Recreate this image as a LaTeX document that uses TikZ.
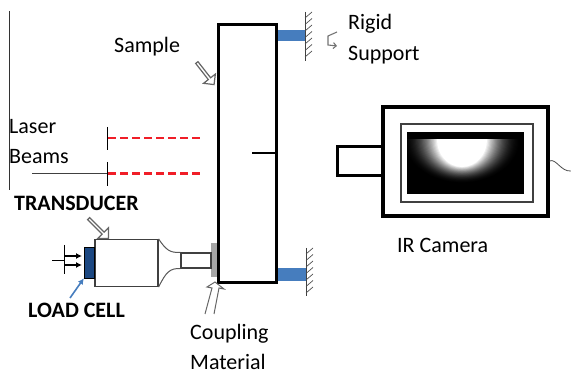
\documentclass[tikz,border=0pt]{standalone}
\usepackage{fontspec}
\setmainfont{Carlito}
\usetikzlibrary{shapes.arrows, arrows.meta}
\definecolor{supportblue}{RGB}{70,125,190}
\definecolor{cellblue}{RGB}{28,72,130}
\definecolor{beamred}{RGB}{240,30,40}
\tikzset{
    label/.style={anchor=west, inner sep=0pt, font=\fontsize{22}{22}\selectfont},
    boldlabel/.style={label, font=\fontsize{22}{22}\selectfont\bfseries},
    hollow/.style={single arrow, draw=black!60, fill=white, line width=1.2pt, minimum height=#1, minimum width=15pt, single arrow head extend=2.5pt, single arrow tip angle=90, inner sep=0pt},
}
\begin{document}
\begin{tikzpicture}[x=1pt, y=-1pt]
    \useasboundingbox (0,0) rectangle (571,374);

    % left edge
    \draw[line width=1pt, black!80] (9.5,11) -- (9.5,190);

    % sample
    \node[draw, line width=3pt, minimum width=58pt, minimum height=258pt, inner sep=0pt] (sample) at (247.5,154) {};
    \coordinate (crackTip) at (252,153);
    \draw[line width=1.2pt] (crackTip) -- (sample.east |- crackTip);

    % rigid supports
    \fill[supportblue] (278,30) rectangle (306,41);
    \fill[supportblue] (278,268) rectangle (306,281);
    \draw[line width=1pt, black!75] (305,12) -- (305,61);
    \draw[line width=1pt, black!75] (306,248) -- (306,296);
    \foreach \i in {0,...,6}{
        \draw[line width=0.7pt, black!70] (305,{18+6.5*\i}) -- (312,{12+6.5*\i});
    }
    \foreach \i in {0,...,6}{
        \draw[line width=0.7pt, black!70] (306,{254+6.5*\i}) -- (313,{248+6.5*\i});
    }
    \draw[line width=1.1pt, black!55, -{Straight Barb[length=3pt]}] (337,32) -- (328,36) -- (328,45) -- (337,46);

    % laser beams
    \coordinate (B2) at (107,173.5);
    \coordinate (S2) at (32,173.5);
    \draw[line width=1pt] (107,127) -- (107,150);
    \draw[line width=1pt] (107,162) -- (107,186);
    \foreach \x in {108,120,...,192}{
        \fill[beamred] (\x,137.2) rectangle ++(8,1.8);
        \fill[beamred] (\x,172.4) rectangle ++(8,2.2);
    }
    \draw[line width=1.2pt, black!75] (S2) -- (B2);

    % transducer
    \fill[black!35] (211,243) rectangle (217,277);
    \node[draw=black!75, line width=1.2pt, minimum width=63pt, minimum height=47pt, inner sep=0pt] (body) at (126.5,263) {};
    \node[draw=black!75, line width=1.2pt, minimum width=30pt, minimum height=15pt, inner sep=0pt] (tip) at (196,260.5) {};
    \draw[black!65, line width=1pt] (body.north east) .. controls (166,250) and (170,253) .. (tip.north west);
    \draw[black!65, line width=1pt] (body.south east) .. controls (166,272) and (170,268) .. (tip.south west);
    \node[draw=black, fill=cellblue, line width=0.5pt, minimum width=10pt, minimum height=31pt, inner sep=0pt, anchor=east] (cell) at (body.west |- 0,262.5) {};
    \coordinate (F0) at (52,260.5);
    \coordinate (F1) at (64,256);
    \coordinate (F2) at (64,265);
    \draw[line width=1pt] (64,245) -- (64,274);
    \draw[line width=1pt] (F0) -- (64,260.5);
    \foreach \i in {1,2}{
        \draw[line width=1.4pt, -{Latex[length=6pt,width=6pt]}] (F\i) -- ++(18,0);
    }

    % pointers
    \node[hollow=28pt, rotate=-52] (sampleArrow) at (205,73) {};
    \node[hollow=28pt, rotate=-45] (transducerArrow) at (98,228) {};
    \coordinate (cellArrow) at (70,298);
    \draw[supportblue, line width=1.6pt, -{Latex[length=6pt,width=6pt]}] (cellArrow) -- (cell.south west);
    \draw[black!60, line width=1pt] (205,314) -- (212,288) -- (207,287) -- (215,282) -- (224,289) -- (219,288) -- (214,314);

    % camera
    \node[draw, line width=3pt, minimum width=46pt, minimum height=29pt, inner sep=0pt] (lens) at (360,161.5) {};
    \node[draw, fill=white, line width=3.2pt, minimum width=165pt, minimum height=109pt, inner sep=0pt] (camera) at (465.5,161.5) {};
    \node[draw=black!75, line width=1.1pt, minimum width=132pt, minimum height=78pt, inner sep=0pt] (screen) at (467,163) {};
    \fill[black] (407,132) rectangle (524,194);
    \begin{scope}
        \clip (407,140) rectangle (524,194);
        \foreach \i in {0,...,30}{
            \pgfmathsetmacro{\rx}{60-35*\i/30}
            \pgfmathsetmacro{\ry}{44-17*\i/30}
            \pgfmathsetmacro{\lvl}{100*(1-(\i/30)^2)}
            \fill[black!\lvl!white] (462,140) ellipse ({\rx pt} and {\ry pt});
        }
    \end{scope}
    \coordinate (wireEnd) at (571,171);
    \draw[black!70, line width=0.8pt] (camera.east |- 0,161) .. controls (556,158) and (561,172) .. (wireEnd);

    % labels
    \node[label] (sampleLabel) at (114,47) {Sample};
    \node[label] (laserLabel) at (9,127) {Laser};
    \node[label] (beamsLabel) at (9,157) {Beams};
    \node[boldlabel] (transducerLabel) at (14,203) {TRANSDUCER};
    \node[boldlabel] (cellLabel) at (28,310) {LOAD CELL};
    \node[label] (couplingLabel) at (190,334) {Coupling};
    \node[label] (materialLabel) at (190,362) {Material};
    \node[label] (rigidLabel) at (348,24) {Rigid};
    \node[label] (supportLabel) at (348,55) {Support};
    \node[label] (cameraLabel) at (397,245) {IR Camera};
\end{tikzpicture}
\end{document}
